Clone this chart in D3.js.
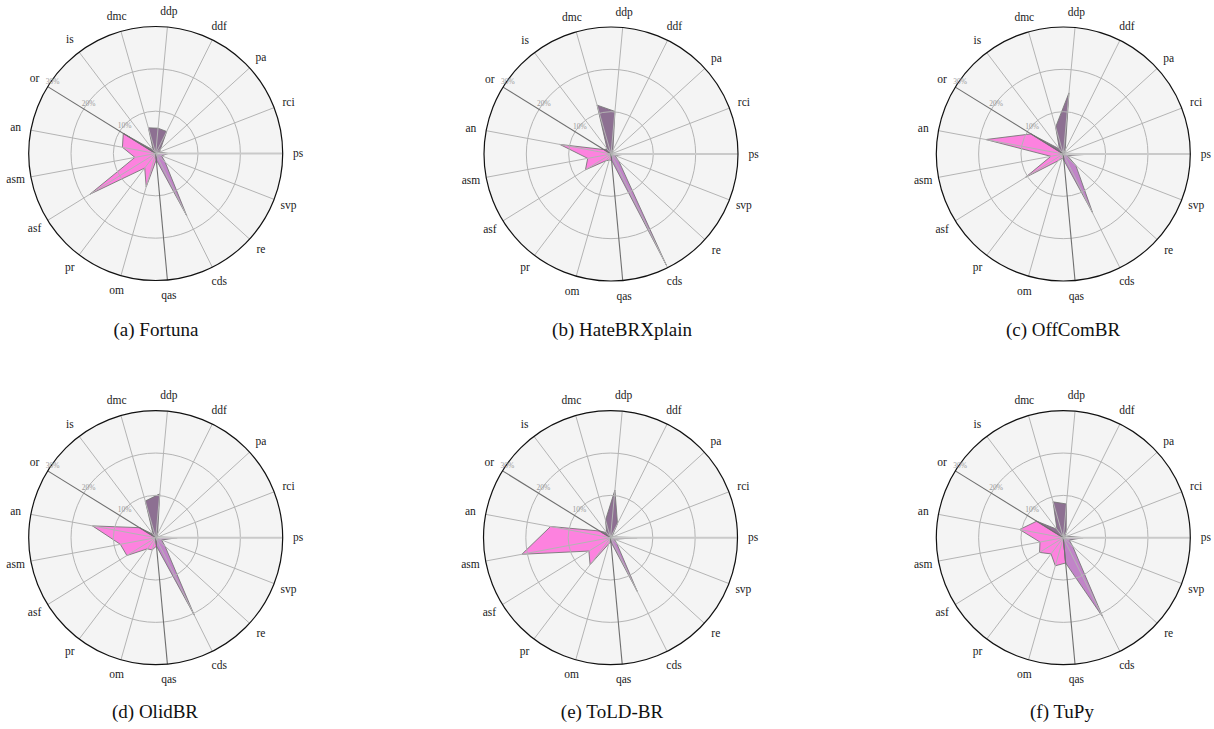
<!DOCTYPE html>
<html><head><meta charset="utf-8">
<script src="https://cdn.jsdelivr.net/npm/d3@7"></script>
<style>body{margin:0;background:#fff}svg{display:block}</style>
</head><body>
<svg id="c" width="1214" height="729"></svg>
<script>
const categories = ["ps","rci","pa","ddf","ddp","dmc","is","or","an","asm","asf","pr","om","qas","cds","re","svp"];
// group of each category: 0 dark purple, 1 pink, 2 light purple
const groupOf = [0,0,0,0,0,0,0,1,1,1,1,1,1,2,2,2,2];
const groupColors = ["#8d7092","#fd82df","#c184c8"];
const tickValues = [10,20,30];
const tickLabels = ["10%","20%","30%"];

const fortuna      = [3.0,1.0,1.5,5.8,6.0,6.3,1.0,9.0,8.0,5.0,18.3,4.3,8.2,1.5,16.5,3.0,1.5];
const hateBRXplain = [3.5,0.5,0.5,1.0,10.1,12.0,1.5,2.0,12.3,5.6,7.1,2.0,1.5,1.5,29.3,2.5,1.0];
const offComBR     = [6.9,0.5,0.5,1.0,14.5,6.6,1.5,9.0,18.6,3.0,10.6,2.0,1.0,1.5,15.6,4.0,1.0];
const olidBR       = [5.1,0.5,0.5,1.0,10.4,9.0,1.0,4.5,15.2,8.5,8.0,3.3,3.0,2.0,20.5,3.0,1.5];
const toldBR       = [6.3,0.5,0.5,3.7,11.3,4.3,1.5,3.0,14.4,21.3,6.0,8.0,1.5,1.0,14.2,2.0,1.0];
const tupy         = [4.7,1.0,0.5,1.5,8.0,8.8,2.5,7.4,10.5,5.6,6.6,4.8,6.9,6.0,21.0,3.0,1.5];

const captions = ["(a) Fortuna","(b) HateBRXplain","(c) OffComBR","(d) OlidBR","(e) ToLD-BR","(f) TuPy"];
const datasets = [fortuna,hateBRXplain,offComBR,olidBR,toldBR,tupy];

const centers = [[155.7,153.5],[611,154],[1063.3,154],[155.7,537.7],[610.5,537.7],[1063.3,537.7]];
const captionX = [156,622,1063,155,612,1062];
const captionY = [336,336,336,718,718,718];

const R = 127;
const rScale = d3.scaleLinear().domain([0,30]).range([0,R]);
const aScale = d3.scaleLinear().domain([0,categories.length]).range([0,2*Math.PI]);

const svg = d3.select("#c");
const serif = "'Liberation Serif','Times New Roman',serif";

datasets.forEach((vals,k)=>{
  const [cx,cy] = centers[k];
  const g = svg.append("g").attr("transform",`translate(${cx},${cy})`);
  const px = (a,r)=>[r*Math.cos(a), -r*Math.sin(a)];

  g.append("circle").attr("r",R).attr("fill","#f4f4f4");

  const line = d3.lineRadial()
    .angle(d=>Math.PI/2 - aScale(d.i))
    .radius(d=>rScale(d.v))
    .curve(d3.curveLinearClosed);
  const n = categories.length;
  [0,1,2].forEach(gi=>{
    const idx = d3.range(n).filter(i=>groupOf[i]===gi);
    const pts = [{i:idx[0],v:0}];
    idx.forEach(i=>pts.push({i:i,v:vals[i]}));
    const nx = (idx[idx.length-1]+1)%n;
    pts.push({i:nx===0?n:nx,v:vals[nx]});
    g.append("path").attr("d",line(pts))
      .attr("fill",groupColors[gi]).attr("stroke","#777").attr("stroke-width",0.9)
      .attr("stroke-linejoin","miter");
  });

  tickValues.slice(0,2).forEach(t=>{
    g.append("circle").attr("r",rScale(t)).attr("fill","none")
      .attr("stroke","#b4b4b4").attr("stroke-width",1);
  });
  categories.forEach((c,i)=>{
    const a = aScale(i);
    const [x,y] = px(a,R);
    let col="#b4b4b4", w=1;
    if(i===0){col="#cacaca"; w=2;}
    if(c==="or"||c==="qas"){col="#6f6f6f"; w=1.1;}
    g.append("line").attr("x1",0).attr("y1",0).attr("x2",x).attr("y2",y)
      .attr("stroke",col).attr("stroke-width",w);
  });
  g.append("circle").attr("r",R).attr("fill","none").attr("stroke","#111").attr("stroke-width",1.2);

  const aOr = aScale(categories.indexOf("or"));
  tickValues.forEach((t,j)=>{
    const [x,y] = px(aOr,rScale(t));
    g.append("text").attr("x",x-2).attr("y",y-3)
      .attr("font-family",serif).attr("font-size",7.5).attr("fill","#9a9a9a")
      .text(tickLabels[j]);
  });

  categories.forEach((c,i)=>{
    const [x,y] = px(aScale(i),R+15.5);
    g.append("text").attr("x",x).attr("y",y).attr("dy","0.32em")
      .attr("text-anchor","middle").attr("font-family",serif).attr("font-size",11.5)
      .attr("fill","#1a1a1a").text(c);
  });

  svg.append("text").attr("x",captionX[k]).attr("y",captionY[k])
    .attr("text-anchor","middle").attr("font-family",serif).attr("font-size",19)
    .attr("fill","#111").text(captions[k]);
});
</script>
</body></html>
